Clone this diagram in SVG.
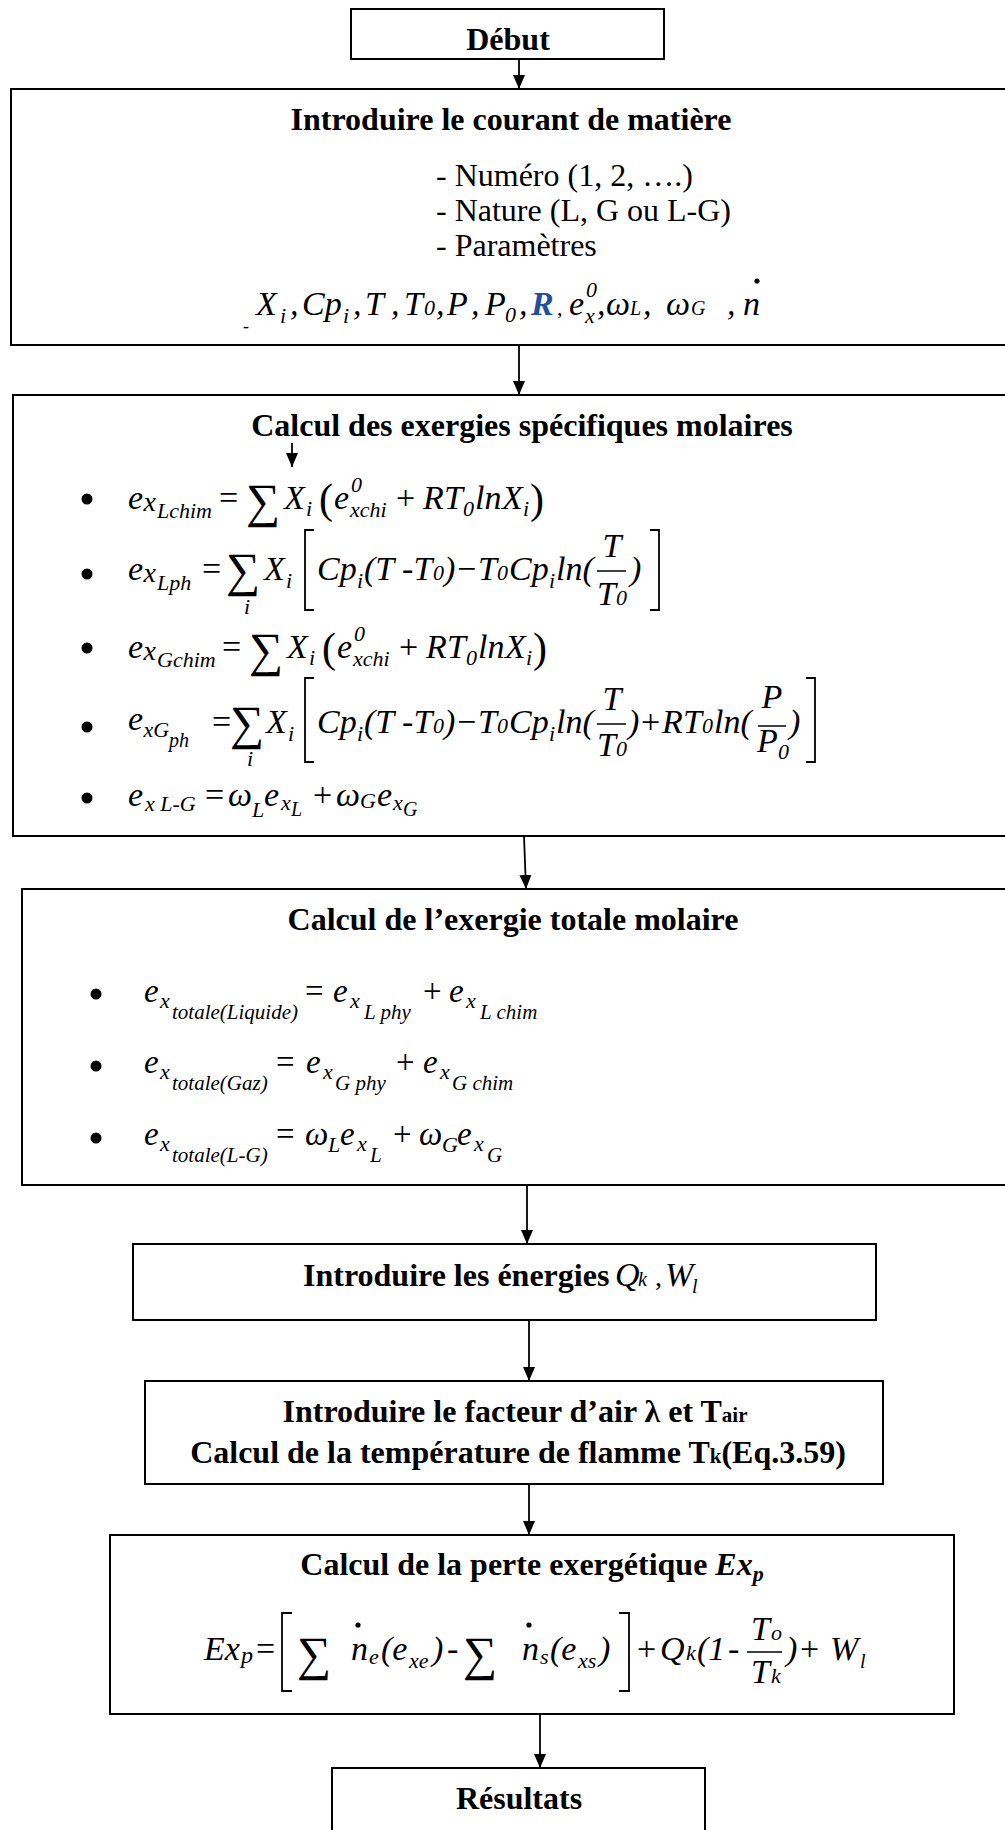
<svg xmlns="http://www.w3.org/2000/svg" width="1005" height="1830" viewBox="0 0 1005 1830">
<defs>
<style>
.box{fill:#fff;stroke:#000;stroke-width:2}
.t{font-family:"Liberation Serif",serif;font-weight:bold;font-size:32px;fill:#000}
.r{font-family:"Liberation Serif",serif;font-size:32px;fill:#000}
.m{font-family:"Liberation Serif","DejaVu Serif",serif;font-style:italic;font-size:34px;fill:#000}
.m4{font-family:"Liberation Serif","DejaVu Serif",serif;font-style:italic;font-size:33px;fill:#000}
.s{font-size:22px}
.ss{font-size:20px}
.n{font-style:normal}
.sum{font-style:normal;font-size:48px}
.br{fill:none;stroke:#000;stroke-width:1.8}
.fr{stroke:#000;stroke-width:1.5}
.cn{stroke:#000;stroke-width:1.8;fill:none}
</style>
<marker id="ah" viewBox="0 0 14 12" refX="14" refY="6" markerWidth="14" markerHeight="12" markerUnits="userSpaceOnUse" orient="auto"><path d="M0,0 L14,6 L0,12 z" fill="#000"/></marker>
</defs>
<rect width="1005" height="1830" fill="#fff"/>

<g id="debut">
<rect class="box" x="351" y="9" width="313" height="50"/>
<text class="t" x="508" y="50" text-anchor="middle">Début</text>
</g>

<g id="courant">
<rect class="box" x="11" y="89" width="1010" height="256"/>
<text class="t" x="511" y="130" text-anchor="middle">Introduire le courant de matière</text>
<text class="r" x="436" y="186">- Numéro (1, 2, ….)</text>
<text class="r" x="436" y="221">- Nature (L, G ou L-G)</text>
<text class="r" x="436" y="256">- Paramètres</text>
<text class="m" font-size="35">
<tspan x="243" y="332" class="n" font-size="18">-</tspan>
<tspan x="256" y="315">X</tspan><tspan x="280" y="323" class="s">i</tspan><tspan x="290" y="315">,</tspan>
<tspan x="302" y="315">Cp</tspan><tspan x="343" y="323" class="s">i</tspan><tspan x="353" y="315">,</tspan>
<tspan x="365" y="315">T</tspan><tspan x="391" y="315">,</tspan>
<tspan x="404" y="315">T</tspan><tspan x="424" y="315" class="s">0</tspan><tspan x="436" y="315">,</tspan>
<tspan x="447" y="315">P</tspan><tspan x="471" y="315">,</tspan>
<tspan x="485" y="315">P</tspan><tspan x="505" y="322" class="s">0</tspan><tspan x="519" y="315">,</tspan>
<tspan x="531" y="315" font-weight="bold" fill="#1f4f9f">R</tspan><tspan x="557" y="315" class="s">,</tspan>
<tspan x="569" y="315">e</tspan><tspan x="586" y="297" class="s">0</tspan><tspan x="585" y="323" class="s">x</tspan><tspan x="597" y="315">,</tspan>
<tspan x="606" y="315">ω</tspan><tspan x="630" y="315" class="ss">L</tspan><tspan x="643" y="315">,</tspan>
<tspan x="666" y="315">ω</tspan><tspan x="691" y="315" class="ss">G</tspan><tspan x="727" y="315">,</tspan>
<tspan x="743" y="315">n</tspan>
</text>
<circle cx="757" cy="281" r="2.6"/>
</g>

<g id="exergies-specifiques">
<rect class="box" x="13" y="395" width="1030" height="441"/>
<text class="t" x="522" y="436" text-anchor="middle">Calcul des exergies spécifiques molaires</text>
<circle cx="87" cy="499" r="5.5"/>
<circle cx="87" cy="574" r="5.5"/>
<circle cx="87" cy="648" r="5.5"/>
<circle cx="87" cy="727" r="5.5"/>
<circle cx="87" cy="798" r="5.5"/>
<text class="m">
<tspan x="128" y="509">e</tspan><tspan x="143.5" y="511" font-size="28">x</tspan><tspan x="157" y="518" class="s">Lchim</tspan>
<tspan x="219" y="509" class="n">=</tspan>
<tspan x="246" y="517" class="sum">∑</tspan>
<tspan x="284" y="509">X</tspan><tspan x="306" y="516" class="s">i</tspan>
<tspan x="319" y="513" class="n" font-size="42">(</tspan>
<tspan x="334" y="509">e</tspan><tspan x="351" y="492" class="s">0</tspan><tspan x="350" y="517" class="s">xchi</tspan>
<tspan x="396" y="509" class="n">+</tspan>
<tspan x="423" y="509">R</tspan><tspan x="444" y="509">T</tspan><tspan x="463" y="516" class="s">0</tspan><tspan x="475" y="509">ln</tspan><tspan x="502" y="509">X</tspan><tspan x="523" y="516" class="s">i</tspan>
<tspan x="530" y="513" class="n" font-size="42">)</tspan>
</text>
<text class="m">
<tspan x="128" y="580">e</tspan><tspan x="143.5" y="582" font-size="28">x</tspan><tspan x="157" y="590" class="s">Lph</tspan>
<tspan x="202" y="580" class="n">=</tspan>
<tspan x="226" y="586" class="sum">∑</tspan>
<tspan x="244" y="614" class="s">i</tspan>
<tspan x="264" y="580">X</tspan><tspan x="286" y="588" class="s">i</tspan>
<tspan x="317" y="580">Cp</tspan><tspan x="357" y="588" class="s">i</tspan>
<tspan x="364" y="580">(T -T</tspan><tspan x="433" y="580" class="s">0</tspan><tspan x="444" y="580">)</tspan>
<tspan x="457" y="580" class="n">−</tspan>
<tspan x="478" y="580">T</tspan><tspan x="497" y="580" class="s">0</tspan>
<tspan x="509" y="580">Cp</tspan><tspan x="549" y="588" class="s">i</tspan>
<tspan x="556" y="580">ln(</tspan>
<tspan x="630" y="580">)</tspan>
</text>
<text class="m" text-anchor="middle"><tspan x="612" y="557">T</tspan></text>
<text class="m" text-anchor="middle" x="612" y="605">T<tspan class="s">0</tspan></text>
<line class="fr" x1="597" y1="571" x2="626" y2="571"/>
<path class="br" d="M314,530 H305 V610 H314"/>
<path class="br" d="M650,530 H659 V610 H650"/>
<text class="m">
<tspan x="128" y="658">e</tspan><tspan x="143.5" y="660" font-size="28">x</tspan><tspan x="157" y="667" class="s">Gchim</tspan>
<tspan x="222" y="658" class="n">=</tspan>
<tspan x="249" y="666" class="sum">∑</tspan>
<tspan x="287" y="658">X</tspan><tspan x="309" y="665" class="s">i</tspan>
<tspan x="322" y="662" class="n" font-size="42">(</tspan>
<tspan x="337" y="658">e</tspan><tspan x="354" y="641" class="s">0</tspan><tspan x="353" y="666" class="s">xchi</tspan>
<tspan x="399" y="658" class="n">+</tspan>
<tspan x="426" y="658">R</tspan><tspan x="447" y="658">T</tspan><tspan x="466" y="665" class="s">0</tspan><tspan x="478" y="658">ln</tspan><tspan x="505" y="658">X</tspan><tspan x="526" y="665" class="s">i</tspan>
<tspan x="533" y="662" class="n" font-size="42">)</tspan>
</text>
<text class="m">
<tspan x="128" y="730">e</tspan><tspan x="143.5" y="737" class="s">xG</tspan><tspan x="169" y="747" class="ss">ph</tspan>
<tspan x="212" y="733" class="n">=</tspan>
<tspan x="230" y="739" class="sum">∑</tspan>
<tspan x="247" y="766" class="s">i</tspan>
<tspan x="266" y="733">X</tspan><tspan x="288" y="741" class="s">i</tspan>
<tspan x="317" y="733">Cp</tspan><tspan x="357" y="741" class="s">i</tspan>
<tspan x="364" y="733">(T -T</tspan><tspan x="433" y="733" class="s">0</tspan><tspan x="444" y="733">)</tspan>
<tspan x="457" y="733" class="n">−</tspan>
<tspan x="478" y="733">T</tspan><tspan x="497" y="733" class="s">0</tspan>
<tspan x="509" y="733">Cp</tspan><tspan x="549" y="741" class="s">i</tspan>
<tspan x="556" y="733">ln(</tspan>
<tspan x="628" y="733">)</tspan>
<tspan x="641" y="733" class="n">+</tspan>
<tspan x="662" y="733">R</tspan><tspan x="683" y="733">T</tspan><tspan x="702" y="733" class="s">0</tspan>
<tspan x="714" y="733">ln(</tspan>
<tspan x="789" y="733">)</tspan>
</text>
<text class="m" text-anchor="middle"><tspan x="612" y="710">T</tspan></text>
<text class="m" text-anchor="middle" x="612" y="756">T<tspan class="s">0</tspan></text>
<text class="m" text-anchor="middle"><tspan x="772" y="708">P</tspan></text>
<text class="m" text-anchor="middle" x="773" y="752">P<tspan class="s" dy="7">0</tspan></text>
<line class="fr" x1="597" y1="724" x2="626" y2="724"/>
<line class="fr" x1="758" y1="726" x2="786" y2="726"/>
<path class="br" d="M314,678 H305 V762 H314"/>
<path class="br" d="M806,678 H815 V762 H806"/>
<text class="m">
<tspan x="128" y="806">e</tspan><tspan x="145" y="811" class="s">x L-G</tspan>
<tspan x="205" y="806" class="n">=</tspan>
<tspan x="228" y="806">ω</tspan><tspan x="252" y="817" class="s">L</tspan>
<tspan x="264" y="806">e</tspan><tspan x="281" y="810" class="s">x</tspan><tspan x="291" y="816" class="ss">L</tspan>
<tspan x="313" y="806" class="n">+</tspan>
<tspan x="336" y="806">ω</tspan><tspan x="360" y="808" class="s">G</tspan>
<tspan x="377" y="806">e</tspan><tspan x="393" y="810" class="s">x</tspan><tspan x="403" y="816" class="ss">G</tspan>
</text>
</g>

<g id="exergie-totale">
<rect class="box" x="22" y="889" width="1010" height="296"/>
<text class="t" x="513" y="930" text-anchor="middle">Calcul de l’exergie totale molaire</text>
<circle cx="96" cy="994" r="5.5"/>
<circle cx="96" cy="1066" r="5.5"/>
<circle cx="96" cy="1138" r="5.5"/>
<text class="m4">
<tspan x="144" y="1002">e</tspan><tspan x="160" y="1008" class="s">x</tspan><tspan x="172" y="1019" font-size="21">totale(Liquide)</tspan>
<tspan x="305" y="1002" class="n">=</tspan>
<tspan x="333" y="1002">e</tspan><tspan x="350" y="1008" class="s">x</tspan><tspan x="364" y="1019" font-size="21">L phy</tspan>
<tspan x="423" y="1002" class="n">+</tspan>
<tspan x="449" y="1002">e</tspan><tspan x="466" y="1008" class="s">x</tspan><tspan x="480" y="1019" font-size="21">L chim</tspan>
</text>
<text class="m4">
<tspan x="144" y="1073">e</tspan><tspan x="160" y="1079" class="s">x</tspan><tspan x="172" y="1090" font-size="21">totale(Gaz)</tspan>
<tspan x="276" y="1073" class="n">=</tspan>
<tspan x="306" y="1073">e</tspan><tspan x="323" y="1079" class="s">x</tspan><tspan x="335" y="1090" font-size="21">G phy</tspan>
<tspan x="396" y="1073" class="n">+</tspan>
<tspan x="423" y="1073">e</tspan><tspan x="440" y="1079" class="s">x</tspan><tspan x="452" y="1090" font-size="21">G chim</tspan>
</text>
<text class="m4">
<tspan x="144" y="1145">e</tspan><tspan x="160" y="1151" class="s">x</tspan><tspan x="172" y="1162" font-size="21">totale(L-G)</tspan>
<tspan x="276" y="1145" class="n">=</tspan>
<tspan x="305" y="1145">ω</tspan><tspan x="328" y="1152" class="s">L</tspan>
<tspan x="340" y="1145">e</tspan><tspan x="357" y="1151" class="s">x</tspan><tspan x="370" y="1162" font-size="21">L</tspan>
<tspan x="393" y="1145" class="n">+</tspan>
<tspan x="419" y="1145">ω</tspan><tspan x="442" y="1152" class="s">G</tspan>
<tspan x="457" y="1145">e</tspan><tspan x="474" y="1151" class="s">x</tspan><tspan x="487" y="1162" font-size="21">G</tspan>
</text>
</g>

<g id="energies">
<rect class="box" x="133" y="1244" width="743" height="76"/>
<text class="t" x="303" y="1286">Introduire les énergies</text>
<text class="m" font-size="32">
<tspan x="615" y="1286">Q</tspan><tspan x="638" y="1286" class="ss">k</tspan>
<tspan x="655" y="1286" class="n" font-size="28">,</tspan>
<tspan x="665" y="1286">W</tspan><tspan x="692" y="1293" class="ss">l</tspan>
</text>
</g>

<g id="facteur-air">
<rect class="box" x="145" y="1381" width="738" height="103"/>
<text class="t" x="515" y="1422" text-anchor="middle">Introduire le facteur d’air λ et T<tspan font-size="21">air</tspan></text>
<text class="t" x="518" y="1463" text-anchor="middle">Calcul de la température de flamme T<tspan font-size="21">k</tspan>(Eq.3.59)</text>
</g>

<g id="perte">
<rect class="box" x="110" y="1535" width="844" height="179"/>
<text class="t" x="532" y="1575" text-anchor="middle">Calcul de la perte exergétique <tspan font-style="italic">Ex</tspan><tspan font-style="italic" font-size="22" dy="6">p</tspan></text>
<text class="m" font-size="35">
<tspan x="204" y="1660">Ex</tspan><tspan x="241" y="1663" font-size="24">p</tspan>
<tspan x="256" y="1660" class="n">=</tspan>
<tspan x="297" y="1670" class="sum">∑</tspan>
<tspan x="351" y="1660">n</tspan><tspan x="369" y="1664" class="s">e</tspan>
<tspan x="381" y="1660">(e</tspan><tspan x="409" y="1668" class="s">xe</tspan><tspan x="432" y="1660">)</tspan>
<tspan x="447" y="1660" class="n">-</tspan>
<tspan x="463" y="1670" class="sum">∑</tspan>
<tspan x="522" y="1660">n</tspan><tspan x="540" y="1664" class="s">s</tspan>
<tspan x="550" y="1660">(e</tspan><tspan x="578" y="1668" class="s">xs</tspan><tspan x="599" y="1660">)</tspan>
<tspan x="637" y="1660" class="n">+</tspan>
<tspan x="660" y="1660">Q</tspan><tspan x="686" y="1660" class="s">k</tspan>
<tspan x="697" y="1660">(1</tspan><tspan x="728" y="1660" class="n">-</tspan>
<tspan x="751" y="1640">T</tspan><tspan x="771" y="1640" class="s">o</tspan>
<tspan x="751" y="1683">T</tspan><tspan x="771" y="1683" class="s">k</tspan>
<tspan x="786" y="1660">)</tspan>
<tspan x="800" y="1660" class="n">+</tspan>
<tspan x="830" y="1660">W</tspan><tspan x="860" y="1668" class="ss">l</tspan>
</text>
<circle cx="358" cy="1625" r="2.6"/>
<circle cx="529" cy="1625" r="2.6"/>
<line class="fr" x1="747" y1="1652" x2="782" y2="1652"/>
<path class="br" d="M292,1613 H282 V1691 H292"/>
<path class="br" d="M619,1613 H629 V1691 H619"/>
</g>

<g id="resultats">
<rect class="box" x="332" y="1768" width="373" height="70"/>
<text class="t" x="519" y="1809" text-anchor="middle">Résultats</text>
</g>

<g id="connectors" class="cn">
<line x1="519" y1="59" x2="519" y2="89" marker-end="url(#ah)"/>
<line x1="519" y1="345" x2="519" y2="395" marker-end="url(#ah)"/>
<line x1="292" y1="443" x2="292" y2="467" marker-end="url(#ah)"/>
<line x1="524" y1="836" x2="526" y2="889" marker-end="url(#ah)"/>
<line x1="527" y1="1185" x2="527" y2="1244" marker-end="url(#ah)"/>
<line x1="529" y1="1320" x2="529" y2="1381" marker-end="url(#ah)"/>
<line x1="529" y1="1484" x2="529" y2="1535" marker-end="url(#ah)"/>
<line x1="540" y1="1714" x2="540" y2="1768" marker-end="url(#ah)"/>
</g>
</svg>
